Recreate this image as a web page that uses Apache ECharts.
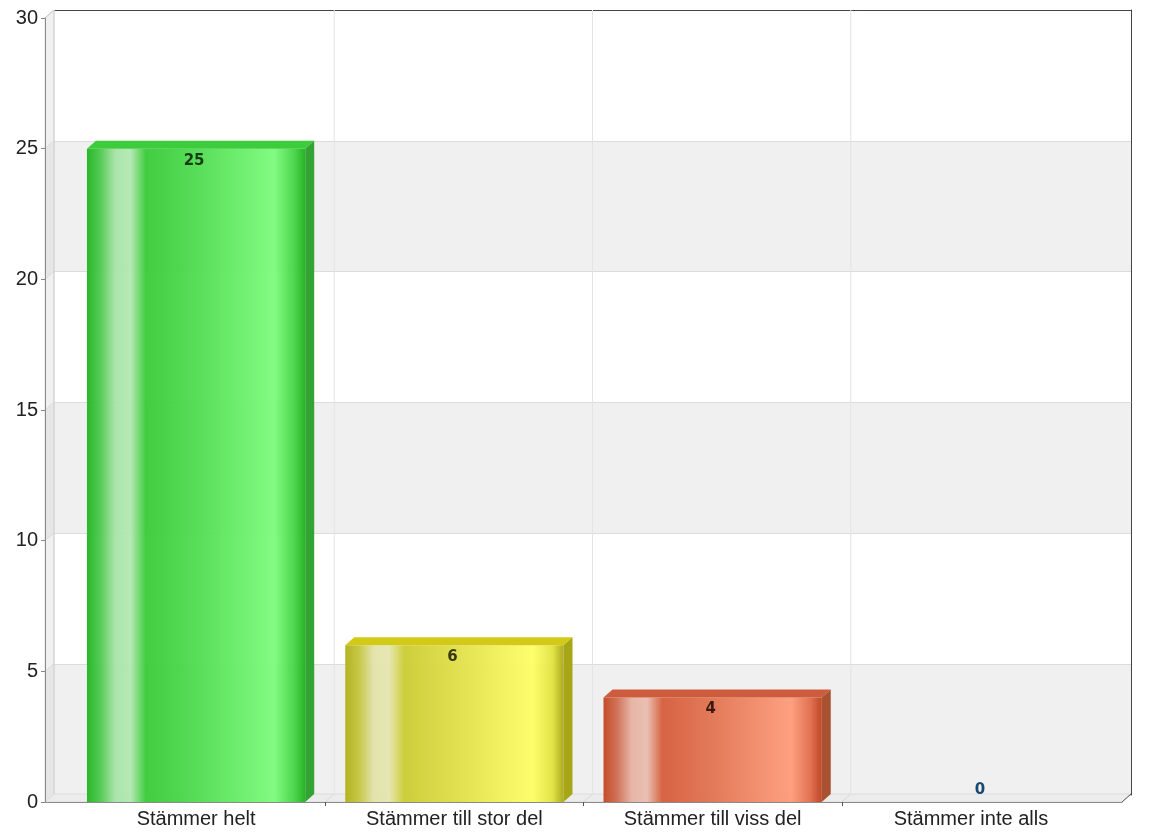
<!DOCTYPE html>
<html>
<head>
<meta charset="utf-8">
<script src="https://cdn.jsdelivr.net/npm/echarts@6/dist/echarts.min.js"></script>
<style>html,body{margin:0;padding:0;background:#fff}#c{width:1152px;height:837px}</style>
</head>
<body>
<div id="c"></div>
<script>
var categories = ['Stämmer helt', 'Stämmer till stor del', 'Stämmer till viss del', 'Stämmer inte alls'];
var values = [25, 6, 4, 0];
var yTicks = [0, 5, 10, 15, 20, 25, 30];

var DX = 9, DY = -8;
var PAD = 0.085;
var XMIN = -0.5 - PAD, XMAX = categories.length - 0.5 + PAD;
var catIdx = categories.map(function (c, i) { return i; });
var catBounds = categories.slice(1).map(function (c, i) { return i + 0.5; });

var palettes = [
  {front: ['#1fb41f', '#4cc84c', '#a8e4a8', '#b2e8b2', '#38cb38', '#50dc50', '#7cfc7c', '#45d445', '#1cb01c'], top: '#3ccc3c', side: '#33a433', label: '#163a16'},
  {front: ['#b0b018', '#c4c43c', '#e2e2a8', '#e6e6b0', '#cccc33', '#dede48', '#fefe66', '#e2e240', '#a8a812'], top: '#d2ca16', side: '#a6a616', label: '#3a3a10'},
  {front: ['#c24420', '#cf6a4e', '#e6b4a4', '#eabcae', '#d65c3a', '#e27452', '#fe9c7a', '#e06a48', '#bc3e1c'], top: '#cc5c3c', side: '#a85232', label: '#3a1a10'},
  {front: ['#1a4a70'], top: '#1a4a70', side: '#1a4a70', label: '#164a72'}
];
var stopPos = [0, 0.06, 0.13, 0.2, 0.27, 0.5, 0.86, 0.95, 1];

var chart = echarts.init(document.getElementById('c'));

function frameItem(params, api) {
  var cs = params.coordSys;
  var x0 = cs.x, x1 = cs.x + cs.width, yb = cs.y + cs.height, yt = cs.y;
  var ch = [];
  for (var i = 0; i < yTicks.length - 1; i++) {
    var ya = api.coord([0, yTicks[i]])[1], yc = api.coord([0, yTicks[i + 1]])[1];
    ch.push({type: 'polygon', shape: {points: [[x0, ya], [x0 + DX, ya + DY], [x0 + DX, yc + DY], [x0, yc]]},
      style: {fill: i % 2 === 0 ? '#e6e6e6' : '#f0f0f0', stroke: '#dddddd', lineWidth: 1}});
  }
  ch.push({type: 'polygon', shape: {points: [[x0, yb], [x0 + DX, yb + DY], [x1 + DX, yb + DY], [x1, yb]]},
    style: {fill: '#ececec', stroke: '#dddddd', lineWidth: 1}});
  catBounds.forEach(function (b) {
    var xx = api.coord([b, 0])[0];
    ch.push({type: 'line', shape: {x1: xx, y1: yb, x2: xx + DX, y2: yb + DY}, style: {stroke: '#d8d8d8', lineWidth: 1}});
    ch.push({type: 'line', shape: {x1: xx + DX, y1: yb + DY, x2: xx + DX, y2: yt + DY}, style: {stroke: '#e4e4e4', lineWidth: 1}});
  });
  ch.push({type: 'line', shape: {x1: x0, y1: yt, x2: x0 + DX, y2: yt + DY}, style: {stroke: '#c8c8c8', lineWidth: 1}});
  ch.push({type: 'line', shape: {x1: x1, y1: yb, x2: x1 + DX, y2: yb + DY}, style: {stroke: '#555555', lineWidth: 1}});
  ch.push({type: 'line', shape: {x1: x0 + DX, y1: yb + DY, x2: x0 + DX, y2: yt + DY}, style: {stroke: '#d0d0d0', lineWidth: 1}});
  return {type: 'group', children: ch};
}

function barItem(params, api) {
  var idx = api.value(0), v = api.value(1);
  var c = api.coord([idx, v]);
  var base = api.coord([idx, 0]);
  var bw = api.size([1, 0])[0] * 0.845;
  var xL = c[0] - bw / 2, xR = c[0] + bw / 2, yT = c[1], yB = base[1];
  var p = palettes[idx];
  var ch = [];
  if (v > 0) {
    var stops = p.front.map(function (col, i) { return {offset: stopPos[i], color: col}; });
    ch.push({type: 'rect', shape: {x: xL, y: yT, width: bw, height: yB - yT},
      style: {fill: new echarts.graphic.LinearGradient(0, 0, 1, 0, stops), opacity: 0.95}});
    ch.push({type: 'polygon', shape: {points: [[xL, yT], [xL + DX, yT + DY], [xR + DX, yT + DY], [xR, yT]]},
      style: {fill: p.top}});
    ch.push({type: 'polygon', shape: {points: [[xR, yT], [xR + DX, yT + DY], [xR + DX, yB + DY], [xR, yB]]},
      style: {fill: p.side}});
  }
  ch.push({type: 'text', style: {text: String(v), x: v > 0 ? c[0] - 2 : c[0] + DX, y: v > 0 ? yT + 12 : yT - 12,
    align: 'center', verticalAlign: 'middle', fill: p.label,
    font: 'bold 15px "DejaVu Sans", Verdana, sans-serif'}});
  return {type: 'group', children: ch};
}

chart.setOption({
  animation: false,
  backgroundColor: '#ffffff',
  grid: [
    {left: 45, right: 30, top: 18, bottom: 35},
    {left: 54, right: 21, top: 10, bottom: 42}
  ],
  xAxis: [
    {type: 'value', gridIndex: 0, min: XMIN, max: XMAX,
      axisLine: {show: true, onZero: false, lineStyle: {color: '#8a8a8a', width: 1}},
      axisTick: {show: true, length: 4, customValues: catBounds, lineStyle: {color: '#555'}},
      axisLabel: {color: '#222', fontSize: 20, fontFamily: '"Liberation Sans", Arial, sans-serif', margin: 7,
        customValues: catIdx, formatter: function (v) { return categories[Math.round(v)]; }},
      splitLine: {show: false}, z: 5},
    {type: 'value', gridIndex: 1, min: XMIN, max: XMAX, position: 'top',
      axisLine: {show: true, onZero: false, lineStyle: {color: '#444', width: 1}},
      axisTick: {show: false}, axisLabel: {show: false},
      splitLine: {show: false}}
  ],
  yAxis: [
    {type: 'value', gridIndex: 0, min: 0, max: 30, interval: 5,
      axisLine: {show: true, onZero: false, lineStyle: {color: '#8a8a8a', width: 1}},
      axisTick: {show: true, length: 4, lineStyle: {color: '#888'}},
      axisLabel: {color: '#222', fontSize: 20, fontFamily: '"Liberation Sans", Arial, sans-serif', margin: 7},
      splitLine: {show: false}, z: 5},
    {type: 'value', gridIndex: 1, min: 0, max: 30, interval: 5, position: 'right',
      axisLine: {show: true, onZero: false, lineStyle: {color: '#444', width: 1}},
      axisTick: {show: false}, axisLabel: {show: false},
      splitLine: {show: true, lineStyle: {color: '#dcdcdc', width: 1}},
      splitArea: {show: true, areaStyle: {color: ['#f0f0f0', '#ffffff']}}}
  ],
  series: [
    {type: 'custom', xAxisIndex: 0, yAxisIndex: 0, data: [[0, 0]], renderItem: frameItem, z: 1, silent: true},
    {type: 'custom', xAxisIndex: 0, yAxisIndex: 0, z: 3,
      data: values.map(function (v, i) { return [i, v]; }), renderItem: barItem}
  ]
});
</script>
</body>
</html>
